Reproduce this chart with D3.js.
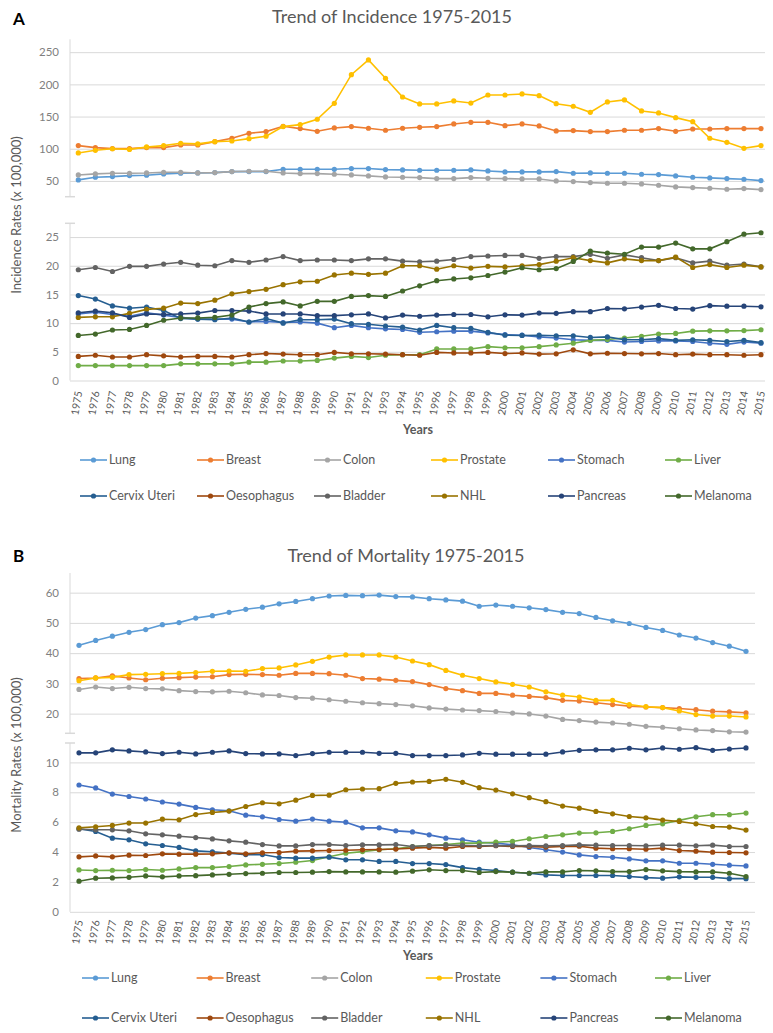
<!DOCTYPE html>
<html>
<head>
<meta charset="utf-8">
<script src="https://cdn.jsdelivr.net/npm/d3@7/dist/d3.min.js"></script>
<style>
body { margin: 0; background: #fff; }
svg text { font-family: Lato, "Open Sans", sans-serif; }
</style>
</head>
<body>
<div id="chart"></div>
<script>
var years = [1975, 1976, 1977, 1978, 1979, 1980, 1981, 1982, 1983, 1984,
    1985, 1986, 1987, 1988, 1989, 1990, 1991, 1992, 1993, 1994,
    1995, 1996, 1997, 1998, 1999, 2000, 2001, 2002, 2003, 2004,
    2005, 2006, 2007, 2008, 2009, 2010, 2011, 2012, 2013, 2014, 2015];

var cancers = ["Lung", "Breast", "Colon", "Prostate", "Stomach", "Liver",
    "Cervix Uteri", "Oesophagus", "Bladder", "NHL", "Pancreas", "Melanoma"];
var colors = ["#5B9BD5", "#ED7D31", "#A5A5A5", "#FFC000", "#4472C4", "#70AD47",
    "#255E91", "#9E480E", "#636363", "#997300", "#264478", "#43682B"];

// incidence (x 100,000)
var incLung = [51.6, 55.7, 56.7, 58.3, 58.8, 60.9, 61.9, 62.4, 62.9, 64.5,
    64.5, 64.5, 68.1, 68.1, 68.1, 68.1, 69.2, 69.2, 67.6, 67.1,
    66.6, 66.6, 66.6, 67.1, 65.5, 64.0, 64.0, 64.0, 64.5, 61.9,
    62.4, 61.9, 61.9, 60.4, 59.8, 57.8, 55.7, 54.7, 53.6, 52.6, 50.5];
var incBreast = [104.9, 101.8, 100.2, 100.2, 101.8, 101.8, 105.9, 105.9, 111.0, 116.3,
    124.0, 126.6, 134.9, 131.3, 127.1, 132.3, 134.4, 131.8, 128.7, 131.8,
    133.3, 134.4, 138.5, 141.1, 141.1, 135.9, 138.5, 135.4, 127.6, 128.2,
    126.6, 126.6, 128.7, 128.7, 131.3, 127.1, 130.7, 130.7, 131.3, 131.3, 131.3];
var incColon = [59.3, 60.9, 61.9, 61.9, 62.4, 63.5, 63.5, 62.4, 62.9, 64.5,
    65.0, 65.0, 62.4, 61.4, 61.4, 60.4, 59.3, 57.8, 56.2, 55.7,
    55.2, 53.6, 53.6, 55.2, 54.1, 53.6, 53.1, 53.1, 50.0, 49.0,
    47.4, 46.4, 46.4, 45.3, 43.3, 40.7, 39.6, 38.6, 37.1, 38.1, 36.5];
var incProstate = [93.5, 97.6, 100.0, 99.0, 102.8, 104.9, 108.5, 107.5, 111.0, 112.0,
    115.7, 119.4, 134.4, 137.5, 145.8, 170.6, 215.0, 237.9, 209.4, 180.4,
    169.6, 169.6, 174.2, 171.0, 183.5, 183.5, 185.1, 182.5, 170.0, 166.0,
    156.6, 172.7, 175.8, 158.7, 155.6, 148.3, 142.1, 116.3, 110.0, 100.7, 104.9];
var incStomach = [11.6, 11.9, 11.5, 11.2, 11.8, 11.4, 11.0, 10.7, 10.7, 10.7,
    10.2, 10.3, 10.1, 10.2, 10.0, 9.2, 9.6, 9.2, 9.0, 8.9,
    8.4, 8.5, 8.6, 8.6, 8.3, 8.0, 7.9, 7.6, 7.4, 7.1,
    7.0, 7.0, 6.7, 6.8, 6.9, 6.9, 6.8, 6.5, 6.3, 6.7, 6.5];
var incLiver = [2.6, 2.6, 2.6, 2.6, 2.6, 2.6, 2.9, 2.9, 2.9, 2.9,
    3.2, 3.2, 3.4, 3.4, 3.5, 3.9, 4.2, 4.0, 4.4, 4.5,
    4.5, 5.5, 5.5, 5.5, 5.9, 5.7, 5.7, 5.9, 6.2, 6.5,
    7.0, 7.15, 7.4, 7.7, 8.1, 8.2, 8.6, 8.65, 8.65, 8.7, 8.85];
var incCervix = [14.8, 14.2, 13.0, 12.6, 12.8, 12.2, 10.8, 10.7, 10.6, 10.9,
    10.2, 10.8, 10.0, 10.6, 10.6, 10.7, 9.9, 9.8, 9.5, 9.3,
    8.8, 9.6, 9.2, 9.1, 8.4, 7.9, 7.85, 7.9, 7.8, 7.8,
    7.5, 7.6, 7.1, 7.1, 7.3, 7.0, 7.1, 7.0, 6.8, 7.0, 6.6];
var incOesophagus = [4.2, 4.4, 4.1, 4.1, 4.5, 4.3, 4.1, 4.2, 4.2, 4.1,
    4.5, 4.7, 4.6, 4.5, 4.5, 4.9, 4.65, 4.65, 4.6, 4.5,
    4.4, 4.9, 4.8, 4.8, 4.9, 4.7, 4.8, 4.6, 4.65, 5.35,
    4.65, 4.75, 4.7, 4.65, 4.7, 4.5, 4.6, 4.5, 4.5, 4.4, 4.5];
var incBladder = [19.3, 19.7, 19.0, 19.9, 19.9, 20.3, 20.6, 20.1, 20.0, 20.9,
    20.6, 21.0, 21.6, 20.9, 21.0, 21.0, 20.9, 21.2, 21.2, 20.8,
    20.7, 20.8, 21.1, 21.6, 21.7, 21.8, 21.8, 21.3, 21.6, 21.6,
    22.0, 21.3, 21.9, 21.4, 20.9, 21.4, 20.5, 20.8, 20.1, 20.3, 19.8];
var incNHL = [11.0, 11.1, 11.1, 11.7, 12.4, 12.6, 13.5, 13.4, 14.0, 15.1,
    15.5, 15.9, 16.7, 17.2, 17.3, 18.4, 18.7, 18.5, 18.7, 20.0,
    20.0, 19.4, 20.0, 19.6, 19.9, 19.8, 20.0, 20.2, 20.8, 21.4,
    20.9, 20.5, 21.2, 20.9, 20.9, 21.5, 19.7, 20.2, 19.7, 20.1, 19.8];
var incPancreas = [11.8, 12.1, 11.8, 11.0, 11.6, 11.5, 11.6, 11.75, 12.2, 12.2,
    12.1, 11.6, 11.6, 11.6, 11.3, 11.3, 11.45, 11.6, 10.9, 11.4,
    11.2, 11.4, 11.5, 11.5, 11.1, 11.45, 11.4, 11.75, 11.7, 12.0,
    12.0, 12.55, 12.5, 12.8, 13.1, 12.55, 12.45, 13.05, 12.95, 12.95, 12.85];
var incMelanoma = [7.85, 8.1, 8.8, 8.9, 9.6, 10.5, 10.9, 10.9, 11.0, 11.4,
    12.8, 13.4, 13.7, 13.0, 13.8, 13.8, 14.65, 14.8, 14.65, 15.6,
    16.5, 17.4, 17.7, 17.9, 18.3, 18.9, 19.65, 19.3, 19.5, 20.75,
    22.55, 22.2, 22.0, 23.25, 23.25, 23.95, 22.95, 22.95, 24.2, 25.5, 25.75];

// mortality (x 100,000)
var morLung = [42.6, 44.2, 45.6, 46.9, 47.8, 49.4, 50.1, 51.6, 52.4, 53.5,
    54.5, 55.2, 56.3, 57.1, 58.0, 58.9, 59.1, 59.0, 59.2, 58.7,
    58.6, 58.0, 57.6, 57.2, 55.5, 55.9, 55.5, 55.0, 54.4, 53.5,
    53.1, 51.8, 50.7, 49.8, 48.5, 47.5, 46.0, 45.0, 43.5, 42.3, 40.6];
var morBreast = [31.6, 31.8, 32.5, 31.8, 31.2, 31.7, 31.9, 32.1, 32.2, 32.9,
    33.0, 32.9, 32.7, 33.3, 33.3, 33.2, 32.7, 31.6, 31.4, 31.0,
    30.6, 29.6, 28.3, 27.6, 26.7, 26.7, 26.1, 25.7, 25.3, 24.4,
    24.2, 23.6, 23.0, 22.5, 22.2, 22.0, 21.7, 21.3, 20.8, 20.6, 20.3];
var morColon = [28.0, 28.8, 28.3, 28.7, 28.3, 28.2, 27.6, 27.3, 27.2, 27.4,
    26.9, 26.2, 26.0, 25.3, 25.1, 24.6, 24.1, 23.6, 23.3, 23.0,
    22.6, 21.9, 21.5, 21.2, 21.0, 20.7, 20.2, 19.9, 19.2, 18.1,
    17.7, 17.2, 16.9, 16.5, 15.8, 15.5, 15.0, 14.6, 14.4, 14.0, 13.9];
var morProstate = [30.9, 31.8, 32.0, 32.9, 33.0, 33.2, 33.3, 33.6, 34.0, 34.1,
    34.0, 34.9, 35.1, 36.1, 37.3, 38.7, 39.4, 39.4, 39.4, 38.7,
    37.4, 36.2, 34.3, 32.7, 31.6, 30.5, 29.7, 28.8, 27.2, 26.1,
    25.5, 24.4, 24.4, 23.0, 22.3, 22.0, 20.9, 19.7, 19.2, 19.2, 18.9];
var morStomach = [8.49, 8.29, 7.88, 7.72, 7.55, 7.35, 7.21, 6.99, 6.83, 6.76,
    6.47, 6.36, 6.18, 6.07, 6.21, 6.07, 6.0, 5.62, 5.62, 5.42,
    5.35, 5.15, 4.93, 4.82, 4.66, 4.6, 4.49, 4.31, 4.15, 4.0,
    3.81, 3.7, 3.65, 3.54, 3.41, 3.41, 3.25, 3.25, 3.18, 3.12, 3.07];
var morLiver = [2.8, 2.76, 2.78, 2.76, 2.83, 2.78, 2.87, 2.96, 2.96, 3.03,
    3.14, 3.18, 3.23, 3.32, 3.43, 3.68, 3.92, 4.03, 4.15, 4.22,
    4.37, 4.44, 4.51, 4.6, 4.6, 4.66, 4.71, 4.89, 5.04, 5.15,
    5.27, 5.29, 5.38, 5.56, 5.78, 5.89, 6.12, 6.36, 6.5, 6.5, 6.61];
var morCervix = [5.56, 5.38, 4.93, 4.82, 4.55, 4.44, 4.31, 4.08, 4.02, 3.93,
    3.83, 3.83, 3.63, 3.59, 3.59, 3.66, 3.48, 3.48, 3.37, 3.37,
    3.23, 3.23, 3.16, 2.96, 2.85, 2.76, 2.65, 2.58, 2.47, 2.43,
    2.43, 2.43, 2.43, 2.36, 2.29, 2.25, 2.34, 2.31, 2.31, 2.22, 2.22];
var morOesophagus = [3.68, 3.74, 3.68, 3.79, 3.77, 3.88, 3.86, 3.86, 3.88, 3.95,
    3.88, 3.95, 3.97, 4.06, 4.08, 4.1, 4.12, 4.15, 4.17, 4.2,
    4.26, 4.31, 4.26, 4.37, 4.37, 4.42, 4.37, 4.37, 4.33, 4.37,
    4.39, 4.26, 4.22, 4.22, 4.19, 4.26, 4.1, 4.06, 3.99, 3.97, 3.95];
var morBladder = [5.53, 5.49, 5.49, 5.42, 5.22, 5.15, 5.06, 4.97, 4.88, 4.75,
    4.66, 4.5, 4.41, 4.41, 4.5, 4.5, 4.44, 4.48, 4.48, 4.5,
    4.37, 4.44, 4.46, 4.46, 4.42, 4.44, 4.42, 4.44, 4.42, 4.44,
    4.48, 4.46, 4.44, 4.44, 4.42, 4.46, 4.46, 4.42, 4.46, 4.37, 4.37];
var morNHL = [5.62, 5.69, 5.78, 5.94, 5.94, 6.2, 6.16, 6.51, 6.65, 6.74,
    7.05, 7.3, 7.23, 7.47, 7.79, 7.81, 8.17, 8.22, 8.24, 8.6,
    8.69, 8.73, 8.87, 8.67, 8.31, 8.15, 7.9, 7.64, 7.37, 7.08,
    6.94, 6.72, 6.56, 6.38, 6.29, 6.14, 6.05, 5.89, 5.71, 5.67, 5.47];
var morPancreas = [10.64, 10.64, 10.84, 10.77, 10.7, 10.59, 10.68, 10.57, 10.68, 10.77,
    10.59, 10.57, 10.57, 10.46, 10.59, 10.68, 10.68, 10.68, 10.61, 10.61,
    10.46, 10.46, 10.46, 10.5, 10.61, 10.55, 10.55, 10.55, 10.55, 10.7,
    10.81, 10.84, 10.84, 10.95, 10.84, 10.97, 10.88, 10.99, 10.81, 10.9, 10.97];
var morMelanoma = [2.05, 2.25, 2.27, 2.31, 2.4, 2.34, 2.4, 2.42, 2.47, 2.51,
    2.56, 2.58, 2.63, 2.63, 2.65, 2.69, 2.67, 2.67, 2.67, 2.65,
    2.72, 2.81, 2.76, 2.76, 2.63, 2.69, 2.65, 2.58, 2.67, 2.67,
    2.76, 2.74, 2.69, 2.69, 2.83, 2.74, 2.69, 2.67, 2.67, 2.58, 2.36];

var incTicksUpper = [50, 100, 150, 200, 250];
var incTicksLower = [0, 5, 10, 15, 20, 25];
var morTicksUpper = [20, 30, 40, 50, 60];
var morTicksLower = [0, 2, 4, 6, 8, 10];

var incidence = [incLung, incBreast, incColon, incProstate, incStomach, incLiver,
    incCervix, incOesophagus, incBladder, incNHL, incPancreas, incMelanoma];
var mortality = [morLung, morBreast, morColon, morProstate, morStomach, morLiver,
    morCervix, morOesophagus, morBladder, morNHL, morPancreas, morMelanoma];

var width = 773,
    height = 1033,
    axisX = 70;

var svg = d3.select("#chart")
    .append("svg")
    .attr("width", width)
    .attr("height", height);

var panels = [
    {
        letter: "A", letterY: 25,
        title: "Trend of Incidence 1975-2015", titleX: 392, titleY: 23,
        yTitle: "Incidence Rates (x 100,000)", yTitleY: 215,
        data: incidence,
        xRange: [78.3, 761], gridRight: 765,
        bands: [
            {domain: [25.5, 270], range: [196.7, 39.3], ticks: incTicksUpper, series: [0, 1, 2, 3]},
            {domain: [0, 27.4], range: [380.5, 223.3], ticks: incTicksLower, series: [4, 5, 6, 7, 8, 9, 10, 11]}
        ],
        labelTop: 391, yearsY: 434,
        legendX: 80, legendStep: 117, legendY: [460, 496]
    },
    {
        letter: "B", letterY: 562,
        title: "Trend of Mortality 1975-2015", titleX: 406, titleY: 562,
        yTitle: "Mortality Rates (x 100,000)", yTitleY: 755,
        data: mortality,
        xRange: [79, 746], gridRight: 755,
        bands: [
            {domain: [13.5, 66.5], range: [733.3, 573], ticks: morTicksUpper, series: [0, 1, 2, 3]},
            {domain: [0, 11.3], range: [911.8, 743], ticks: morTicksLower, series: [4, 5, 6, 7, 8, 9, 10, 11]}
        ],
        labelTop: 920, yearsY: 960,
        legendX: 82, legendStep: 114.6, legendY: [978, 1018]
    }
];

panels.forEach(drawPanel);

function drawPanel(p) {
    var g = svg.append("g");

    var x = d3.scalePoint().domain(years).range(p.xRange);

    g.append("text")
        .attr("x", 13).attr("y", p.letterY)
        .attr("font-family", "Arial, 'Liberation Sans', sans-serif")
        .attr("font-weight", "bold")
        .attr("font-size", 17)
        .attr("fill", "#000")
        .text(p.letter);

    g.append("text")
        .attr("x", p.titleX).attr("y", p.titleY)
        .attr("text-anchor", "middle")
        .attr("font-size", 18)
        .attr("fill", "#595959")
        .text(p.title);

    g.append("text")
        .attr("transform", "translate(21," + p.yTitleY + ") rotate(-90)")
        .attr("text-anchor", "middle")
        .attr("font-size", 13)
        .attr("fill", "#595959")
        .text(p.yTitle);

    p.bands.forEach(function (b, bi) {
        var y = d3.scaleLinear().domain(b.domain).range(b.range);

        var yAxis = g.append("g")
            .attr("transform", "translate(" + axisX + ",0)")
            .call(d3.axisLeft(y)
                .tickValues(b.ticks)
                .tickSize(-(p.gridRight - axisX))
                .tickPadding(11)
                .tickFormat(d3.format("d")));
        yAxis.select(".domain").remove();
        yAxis.selectAll(".tick line").attr("stroke", "#d9d9d9");
        yAxis.selectAll(".tick text")
            .attr("fill", "#7f7f7f")
            .attr("font-size", 11.5)
            .attr("font-family", "Lato, sans-serif");

        // axis line of the band
        g.append("line")
            .attr("x1", axisX).attr("x2", axisX)
            .attr("y1", b.range[1]).attr("y2", b.range[0])
            .attr("stroke", "#d9d9d9");
        // break mark
        var by = bi === 0 ? b.range[0] : b.range[1];
        g.append("line")
            .attr("x1", axisX - 5).attr("x2", axisX + 5)
            .attr("y1", by).attr("y2", by)
            .attr("stroke", "#d9d9d9")
            .attr("stroke-width", 1.5);

        var line = d3.line()
            .x(function (d, i) { return x(years[i]); })
            .y(function (d) { return y(d); });

        b.series.forEach(function (si) {
            var vals = p.data[si];
            g.append("path")
                .datum(vals)
                .attr("fill", "none")
                .attr("stroke", colors[si])
                .attr("stroke-width", 1.6)
                .attr("d", line);
            g.selectAll(".pt" + si)
                .data(vals)
                .enter().append("circle")
                .attr("class", "pt" + si)
                .attr("cx", function (d, i) { return x(years[i]); })
                .attr("cy", function (d) { return y(d); })
                .attr("r", 2.6)
                .attr("fill", colors[si]);
        });
    });

    var xAxis = g.append("g")
        .attr("transform", "translate(0," + p.labelTop + ")")
        .call(d3.axisBottom(x).tickSize(0).tickPadding(0));
    xAxis.select(".domain").remove();
    xAxis.selectAll(".tick text")
        .attr("x", 0).attr("y", 0).attr("dy", "0.35em")
        .attr("transform", "rotate(-80)")
        .attr("text-anchor", "end")
        .attr("fill", "#595959")
        .attr("font-size", 10.5)
        .attr("font-family", "Lato, sans-serif");

    g.append("text")
        .attr("x", 418).attr("y", p.yearsY)
        .attr("text-anchor", "middle")
        .attr("font-size", 12.5)
        .attr("font-weight", "bold")
        .attr("fill", "#595959")
        .text("Years");

    var legend = g.selectAll(".legend")
        .data(cancers)
        .enter().append("g")
        .attr("transform", function (d, i) {
            return "translate(" + (p.legendX + (i % 6) * p.legendStep) + "," + p.legendY[Math.floor(i / 6)] + ")";
        });
    legend.append("line")
        .attr("x1", 0).attr("x2", 27)
        .attr("stroke", function (d, i) { return colors[i]; })
        .attr("stroke-width", 1.6);
    legend.append("circle")
        .attr("cx", 13.5).attr("r", 2.6)
        .attr("fill", function (d, i) { return colors[i]; });
    legend.append("text")
        .attr("x", 29).attr("dy", "0.35em")
        .attr("font-size", 12.5)
        .attr("fill", "#595959")
        .text(function (d) { return d; });
}
</script>
</body>
</html>
